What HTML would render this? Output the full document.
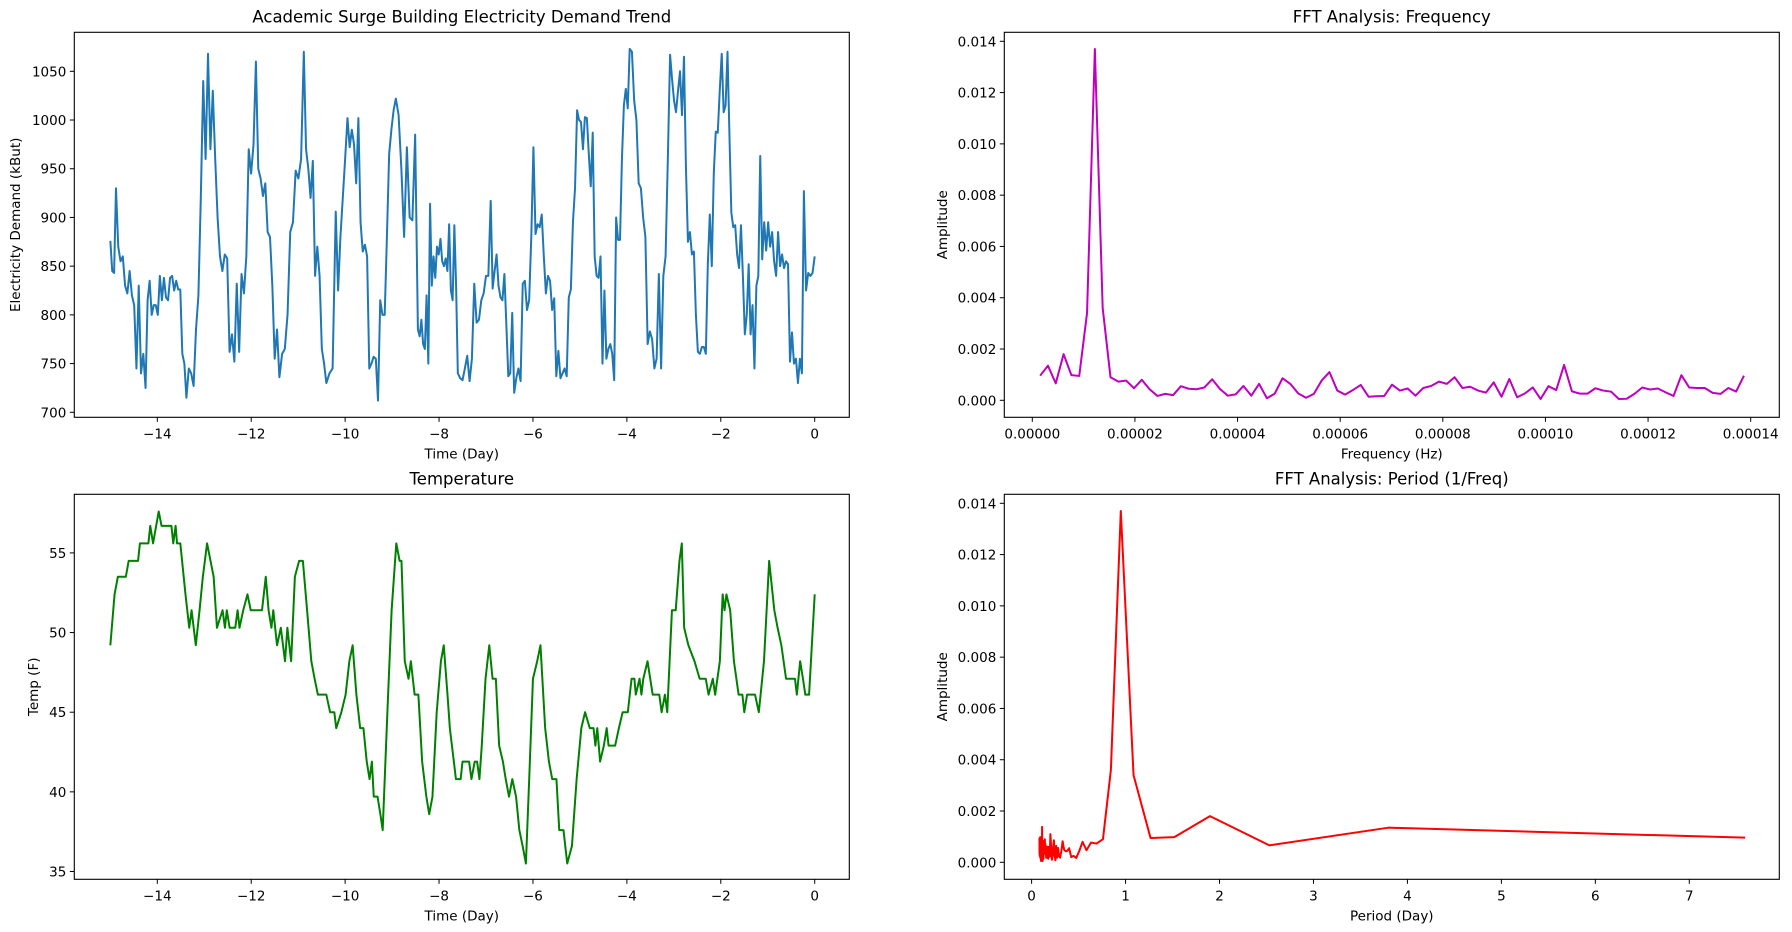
<!DOCTYPE html>
<html><head><meta charset="utf-8">
<style>
html,body{margin:0;padding:0;background:#fff;}
svg{display:block;font-family:"DejaVu Sans","Liberation Sans",sans-serif;}
</style></head>
<body>
<svg id="fig" width="1792" height="932" viewBox="0 0 1792 932" xmlns="http://www.w3.org/2000/svg"></svg>
<script>
const elecValues=[876,845,843,930,870,855,860,830,822,845,820,810,745,830,740,760,725,815,835,800,810,810,800,840,815,838,818,815,838,840,825,835,826,826,760,750,715,745,740,727,785,820,920,1040,960,1068,970,1030,960,900,860,845,862,858,762,780,752,832,762,842,822,860,970,945,975,1060,950,940,922,935,885,880,830,755,785,736,760,765,800,885,895,948,940,960,1070,970,950,920,958,840,870,840,765,750,730,740,745,906,825,880,920,960,1002,972,990,975,935,1002,895,865,872,860,745,750,757,755,712,815,800,800,880,965,990,1010,1022,1005,950,880,972,900,897,985,785,778,795,770,765,820,750,914,830,860,838,870,862,878,855,850,858,845,893,825,815,892,830,740,735,733,745,758,732,755,832,792,795,815,822,840,840,917,827,845,862,830,818,815,842,790,737,740,802,720,735,745,732,832,835,805,815,880,972,883,893,890,903,860,822,840,835,805,817,737,763,735,740,745,737,818,826,895,930,1010,1000,998,970,1003,1002,965,932,987,860,840,838,860,750,825,755,765,770,760,733,900,877,877,960,1015,1032,1012,1073,1070,1020,1000,935,930,900,880,770,783,775,745,755,842,745,840,860,960,1067,1042,1020,1008,1030,1050,1005,1065,950,875,885,862,865,800,762,760,767,767,760,852,903,850,945,988,987,1030,1068,1008,1015,1070,985,905,890,892,862,848,892,840,780,800,852,780,810,745,830,840,963,857,895,866,895,870,885,855,840,885,850,862,848,855,852,752,782,750,755,730,755,740,927,825,843,840,843,860];
// time anchors: sample index -> day (times between anchors are evenly spaced)
const elecAnchorIndex=[0,3,16,36,45,65,75,84,94,97,102,116,124,132,155,169,181,190,211,230,238,256,282,302,324,329];
const elecAnchorDay=[-15,-14.88,-14.25,-13.38,-12.92,-11.9,-11.4,-10.88,-10.4,-10.2,-9.95,-9.3,-8.92,-8.45,-7.6,-6.9,-6.4,-5.99,-5.06,-4.27,-3.94,-3.08,-1.98,-1.16,-0.23,0];
const tempDays=[-15,-14.91,-14.84,-14.67,-14.61,-14.41,-14.37,-14.19,-14.15,-14.09,-13.97,-13.91,-13.70,-13.66,-13.61,-13.58,-13.51,-13.40,-13.32,-13.27,-13.18,-13.10,-13.03,-12.94,-12.80,-12.73,-12.61,-12.56,-12.52,-12.46,-12.34,-12.29,-12.25,-12.17,-12.08,-12.01,-11.77,-11.69,-11.63,-11.57,-11.53,-11.45,-11.37,-11.28,-11.23,-11.15,-11.07,-10.98,-10.90,-10.81,-10.72,-10.65,-10.58,-10.40,-10.32,-10.23,-10.19,-10.08,-9.99,-9.91,-9.84,-9.76,-9.68,-9.61,-9.54,-9.48,-9.43,-9.39,-9.31,-9.25,-9.20,-9.10,-9.01,-8.91,-8.84,-8.80,-8.73,-8.65,-8.60,-8.52,-8.44,-8.36,-8.27,-8.21,-8.14,-8.05,-7.96,-7.90,-7.82,-7.77,-7.64,-7.54,-7.50,-7.36,-7.31,-7.24,-7.19,-7.14,-7.09,-7.01,-6.93,-6.86,-6.79,-6.72,-6.64,-6.58,-6.51,-6.44,-6.36,-6.29,-6.22,-6.15,-6.08,-6.00,-5.91,-5.84,-5.74,-5.66,-5.59,-5.50,-5.44,-5.35,-5.27,-5.17,-5.07,-4.97,-4.89,-4.79,-4.71,-4.67,-4.63,-4.57,-4.49,-4.43,-4.39,-4.25,-4.17,-4.09,-3.98,-3.90,-3.84,-3.81,-3.73,-3.69,-3.65,-3.56,-3.45,-3.31,-3.26,-3.19,-3.14,-3.04,-2.96,-2.88,-2.83,-2.78,-2.69,-2.56,-2.45,-2.32,-2.26,-2.17,-2.12,-2.02,-1.96,-1.92,-1.88,-1.80,-1.72,-1.62,-1.54,-1.50,-1.44,-1.27,-1.19,-1.08,-0.97,-0.86,-0.79,-0.71,-0.61,-0.42,-0.38,-0.31,-0.25,-0.20,-0.12,0];
const tempValues=[49.2,52.4,53.5,53.5,54.5,54.5,55.6,55.6,56.7,55.6,57.6,56.7,56.7,55.6,56.7,55.6,55.6,52.4,50.3,51.4,49.2,51.4,53.5,55.6,53.5,50.3,51.4,50.3,51.4,50.3,50.3,51.4,50.3,51.4,52.4,51.4,51.4,53.5,51.4,50.3,51.4,49.2,50.3,48.2,50.3,48.2,53.5,54.5,54.5,51.4,48.2,47.1,46.1,46.1,45.0,45.0,44.0,45.0,46.1,48.2,49.2,46.1,44.0,44.0,41.9,40.8,41.9,39.7,39.7,38.6,37.6,45.0,51.4,55.6,54.5,54.5,48.2,47.1,48.2,46.1,46.1,41.9,39.7,38.6,39.7,45.0,48.2,49.2,46.1,44.0,40.8,40.8,41.9,41.9,40.8,41.9,41.9,40.8,42.9,47.1,49.2,47.1,47.1,42.9,41.9,40.8,39.7,40.8,39.7,37.6,36.6,35.5,40.8,47.1,48.2,49.2,44.0,41.9,40.8,40.8,37.6,37.6,35.5,36.6,40.8,44.0,45.0,44.0,44.0,42.9,44.0,41.9,42.9,44.0,42.9,42.9,44.0,45.0,45.0,47.1,47.1,46.1,47.1,46.1,47.1,48.2,46.1,46.1,45.0,46.1,45.0,51.4,51.4,54.5,55.6,50.3,49.2,48.2,47.1,47.1,46.1,47.1,46.1,48.2,52.4,51.4,52.4,51.4,48.2,46.1,46.1,45.0,46.1,46.1,45.0,48.2,54.5,51.4,50.3,49.2,47.1,47.1,46.1,48.2,47.1,46.1,46.1,52.4];
const fftStepHz=1.524e-6;
const fftAmplitudes=[0.00096,0.00135,0.00066,0.0018,0.00098,0.00095,0.0034,0.0137,0.0036,0.0009,0.00073,0.00077,0.00047,0.0008,0.00043,0.00017,0.00025,0.0002,0.00055,0.00045,0.00043,0.0005,0.00082,0.00044,0.00018,0.00023,0.00056,0.00018,0.00064,0.00008,0.00026,0.00086,0.00064,0.00027,0.0001,0.00025,0.00077,0.0011,0.00038,0.00022,0.0004,0.0006,0.00014,0.00016,0.00017,0.00061,0.00038,0.00046,0.00018,0.00048,0.00056,0.00073,0.00064,0.0009,0.00048,0.00053,0.00038,0.0003,0.0007,0.00014,0.00083,0.00012,0.00027,0.0005,0.00005,0.00055,0.0004,0.00138,0.00035,0.00026,0.00026,0.00047,0.00038,0.00034,0.00005,0.00006,0.00025,0.0005,0.00042,0.00046,0.00031,0.00017,0.00098,0.0005,0.00048,0.00048,0.00029,0.00025,0.00048,0.00034,0.00096];
const dayTicks=[-14,-12,-10,-8,-6,-4,-2,0];
const elecTicks=[700,750,800,850,900,950,1000,1050];
const tempTicks=[35,40,45,50,55];
const ampTicks=[0,0.002,0.004,0.006,0.008,0.010,0.012,0.014];
const freqTicks=[0,0.00002,0.00004,0.00006,0.00008,0.00010,0.00012,0.00014];
const periodTicks=[0,1,2,3,4,5,6,7];

const NS="http://www.w3.org/2000/svg";
const svg=document.getElementById('fig');
function mk(tag,attrs,parent){const e=document.createElementNS(NS,tag);for(const k in attrs)e.setAttribute(k,attrs[k]);(parent||svg).appendChild(e);return e;}
function lin(d0,d1,p0,p1){return v=>p0+(v-d0)*(p1-p0)/(d1-d0);}

function panel(cfg){
  const g=mk('g',{});
  
  
  const {x0,x1,y0,y1}=cfg.box;
  let d='';
  cfg.xs.forEach((xv,i)=>{d+=(i?'L':'M')+cfg.sx(xv).toFixed(2)+' '+cfg.sy(cfg.ys[i]).toFixed(2);});
  const clip=mk('clipPath',{id:cfg.name+'-clip'},g);
  mk('rect',{x:x0,y:y0,width:x1-x0,height:y1-y0},clip);
  const p=mk('path',{d:d,fill:'none',stroke:cfg.color,'stroke-width':2,'stroke-linejoin':'round','clip-path':'url(#'+cfg.name+'-clip)'},g);
  
  
  const fr=mk('rect',{x:x0,y:y0,width:x1-x0,height:y1-y0,fill:'none',stroke:'#000','stroke-width':1.1},g);
  
  
  cfg.xt.forEach((t,i)=>{const x=cfg.sx(t);
    mk('line',{x1:x,x2:x,y1:y1,y2:y1+4.5,stroke:'#000','stroke-width':1},g);
    const tx=mk('text',{x:x,y:y1+21,'font-size':13.5,'text-anchor':'middle',fill:'#000'},g);tx.textContent=cfg.xl(t);
    
    
  });
  cfg.yt.forEach(t=>{const y=cfg.sy(t);
    mk('line',{x1:x0-4.5,x2:x0,y1:y,y2:y,stroke:'#000','stroke-width':1},g);
    const tx=mk('text',{x:x0-8,y:y+5,'font-size':13.5,'text-anchor':'end',fill:'#000'},g);tx.textContent=cfg.yl(t);
    
    
  });
  const ti=mk('text',{x:(x0+x1)/2,y:y0-10,'font-size':16.5,'text-anchor':'middle',fill:'#000'},g);ti.textContent=cfg.title;
  
  
  const xl=mk('text',{x:(x0+x1)/2,y:y1+41,'font-size':13.5,'text-anchor':'middle',fill:'#000'},g);xl.textContent=cfg.xlabel;
  
  
  const cy=(y0+y1)/2;
  const yl=mk('text',{x:cfg.ylx,y:cy,'font-size':13.5,'text-anchor':'middle',fill:'#000',transform:'rotate(-90 '+cfg.ylx+' '+cy+')'},g);yl.textContent=cfg.ylabel;
  
  
}

// electricity times: linear between anchors
const eTimes=elecValues.map((v,i)=>{
  for(let a=0;a<elecAnchorIndex.length-1;a++){
    const i0=elecAnchorIndex[a],i1=elecAnchorIndex[a+1];
    if(i>=i0&&i<=i1){return elecAnchorDay[a]+(elecAnchorDay[a+1]-elecAnchorDay[a])*(i-i0)/(i1-i0);}
  }
  return elecAnchorDay[elecAnchorDay.length-1];
});
const dayX=lin(-14,0,157.3,814.7);
panel({name:'electricity-chart',box:{x0:74.3,x1:849.3,y0:32.3,y1:417.3},xs:eTimes,ys:elecValues,sx:dayX,sy:lin(700,1050,412.3,71.3),
  color:'#1f77b4',xt:dayTicks,yt:elecTicks,xl:t=>t<0?'\u2212'+(-t):String(t),yl:t=>String(t),
  title:'Academic Surge Building Electricity Demand Trend',xlabel:'Time (Day)',ylabel:'Electricity Demand (kBut)',ylx:20});
panel({name:'temperature-chart',box:{x0:74.3,x1:849.3,y0:494.3,y1:879.3},xs:tempDays,ys:tempValues,sx:dayX,sy:lin(35,55,871.5,552.9),
  color:'#008000',xt:dayTicks,yt:tempTicks,xl:t=>t<0?'\u2212'+(-t):String(t),yl:t=>String(t),
  title:'Temperature',xlabel:'Time (Day)',ylabel:'Temp (F)',ylx:38});
const freqs=fftAmplitudes.map((a,i)=>(i+1)*fftStepHz);
panel({name:'fft-frequency-chart',box:{x0:1004.3,x1:1779.3,y0:32.3,y1:417.3},xs:freqs,ys:fftAmplitudes,sx:lin(0,0.00014,1032.3,1750.7),sy:lin(0,0.014,400.3,41.3),
  color:'#bf00bf',xt:freqTicks,yt:ampTicks,xl:t=>t.toFixed(5),yl:t=>t.toFixed(3),
  title:'FFT Analysis: Frequency',xlabel:'Frequency (Hz)',ylabel:'Amplitude',ylx:947});
const periods=freqs.map(f=>1/(f*86400));
panel({name:'fft-period-chart',box:{x0:1004.3,x1:1779.3,y0:494.3,y1:879.3},xs:periods,ys:fftAmplitudes,sx:lin(0,7,1031.6,1689.3),sy:lin(0,0.014,862.3,503.3),
  color:'#ff0000',xt:periodTicks,yt:ampTicks,xl:t=>String(t),yl:t=>t.toFixed(3),
  title:'FFT Analysis: Period (1/Freq)',xlabel:'Period (Day)',ylabel:'Amplitude',ylx:947});
</script>
</body></html>
